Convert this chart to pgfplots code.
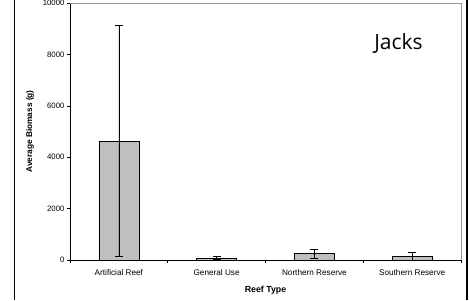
\documentclass[border=0pt]{standalone}
\usepackage{pgfplots}
\pgfplotsset{compat=1.18}
\usepackage{fontspec}
\setmainfont{Liberation Sans}
\newfontfamily\titlefont{Open Sans}
\begin{document}
\begin{tikzpicture}[x=1pt,y=1pt]
\path[use as bounding box] (0,0) rectangle (470,300);
\draw[black,line width=0.9pt] (14.5,0) -- (14.5,300);
\draw[black,line width=2pt] (467,0) -- (467,300);
\begin{axis}[
  at={(70pt,40pt)}, anchor=south west,
  scale only axis, width=391pt, height=257pt,
  ymin=0, ymax=10000,
  xmin=-0.5, xmax=3.5,
  ytick={0,2000,4000,6000,8000,10000},
  yticklabel style={font=\fontsize{7.8}{8}\selectfont, xshift=1pt},
  /pgf/number format/assume math mode=true,
  scaled y ticks=false,
  yticklabel={\pgfmathprintnumber[fixed,1000 sep={}]{\tick}},
  xtick={-0.5,0.5,1.5,2.5,3.5},
  xticklabels={},
  extra x ticks={0,1,2,3},
  extra x tick labels={Artificial Reef,General Use,Northern Reserve,Southern Reserve},
  extra x tick style={major tick length=0pt, tick label style={font=\fontsize{8.2}{9}\selectfont, anchor=center, yshift=-13pt}},
  tick align=outside,
  major tick length=3pt,
  tick style={black, line width=0.6pt},
  axis x line*=bottom, axis y line*=left,
  axis line style={black, line width=0.9pt},
  xlabel={\bfseries Reef Type},
  xlabel style={font=\fontsize{8.8}{10}\selectfont, at={(axis description cs:0.5,0)}, anchor=center, yshift=-30pt},
  ylabel={\bfseries Average Biomass (g)},
  ylabel style={font=\fontsize{8.3}{10}\selectfont, at={(axis description cs:-0.102,0.5)}, anchor=center},
  clip=false,
]
\draw[gray!80, line width=0.6pt] (axis cs:-0.5,10000) -- (axis cs:3.5,10000) -- (axis cs:3.5,0);
\addplot[ybar, bar width=40pt, fill=gray!50, draw=black, line width=0.6pt,
  error bars/.cd, y dir=both, y explicit,
  error bar style={black, line width=0.6pt},
  error mark options={rotate=90, mark size=4pt, black, line width=0.6pt}]
  coordinates {
  (0,4630) +- (0,4500)
  (1,85) +- (0,70)
  (2,245) +- (0,185)
  (3,145) +- (0,140)
  };
\node[font=\titlefont\fontsize{21}{24}\selectfont, anchor=center] at (axis cs:2.86,8440) {Jacks};
\end{axis}
\end{tikzpicture}
\end{document}
